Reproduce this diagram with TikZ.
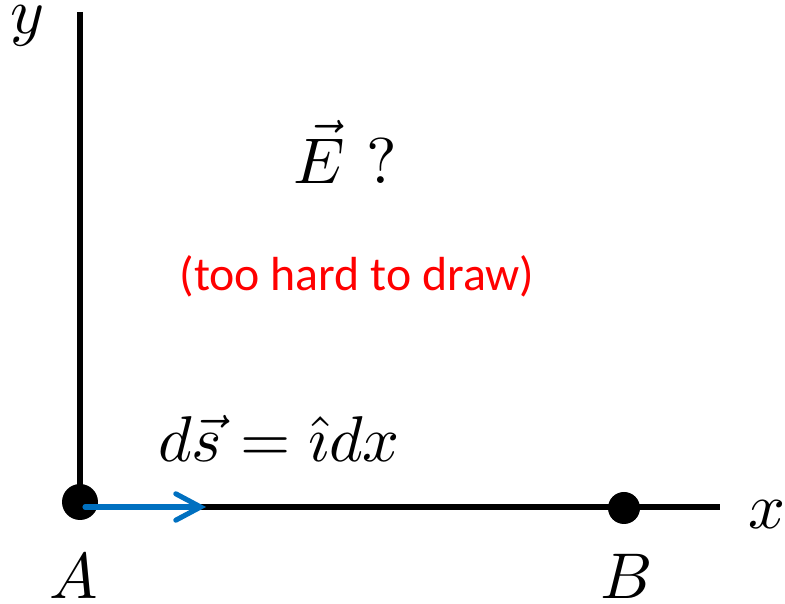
\documentclass[tikz,border=0pt]{standalone}
\usepackage{amsmath, amssymb}
\usepackage{fontspec}
\newfontfamily\carlito{Carlito}
\usepackage{tikz}
\usetikzlibrary{arrows.meta}

\definecolor{azul}{RGB}{0,112,192}

\begin{document}
\begin{tikzpicture}[x=0.025cm, y=0.025cm,
        eje/.style={line width=3.6pt},
        punto/.style={circle, fill=black, inner sep=0pt},
        etiq/.style={scale=4.6, inner sep=0pt}]
        \useasboundingbox (0,0) rectangle (785,604);
        % ejes
        \coordinate (O) at (80,97);
        \coordinate (Ytop) at (80,592);
        \coordinate (Xend) at (720,97);
        \draw[eje] (Ytop) -- (O) -- (Xend);
        \node[etiq] (lblY) at (28,578) {$y$};
        \node[etiq] (lblX) at (767,89) {$x$};

        % puntos A y B
        \node[punto, minimum size=36*0.025cm] (A) at (80,102) {};
        \node[punto, minimum size=32*0.025cm] (B) at (624,96) {};
        \node[etiq] (lblA) at (74,28) {$A$};
        \node[etiq] (lblB) at (627,28) {$B$};

        % vector ds
        \coordinate (Dini) at (85,97);
        \coordinate (Dfin) at (206,97);
        \draw[azul, line width=3.6pt, line cap=round,
              -{Straight Barb[length=0.62cm, width=0.66cm, line cap=round]}] (Dini) -- (Dfin);
        \node[etiq] (lblDs) at (279,166) {$d\vec{s} = \hat{\imath} dx$};

        \node[etiq] (lblE) at (345,452) {$\vec{E}\ ?$};
        \node[red, font=\carlito\fontsize{34}{38}\selectfont] (nota) at (357,328) {(too hard to draw)};
    \end{tikzpicture}
\end{document}
